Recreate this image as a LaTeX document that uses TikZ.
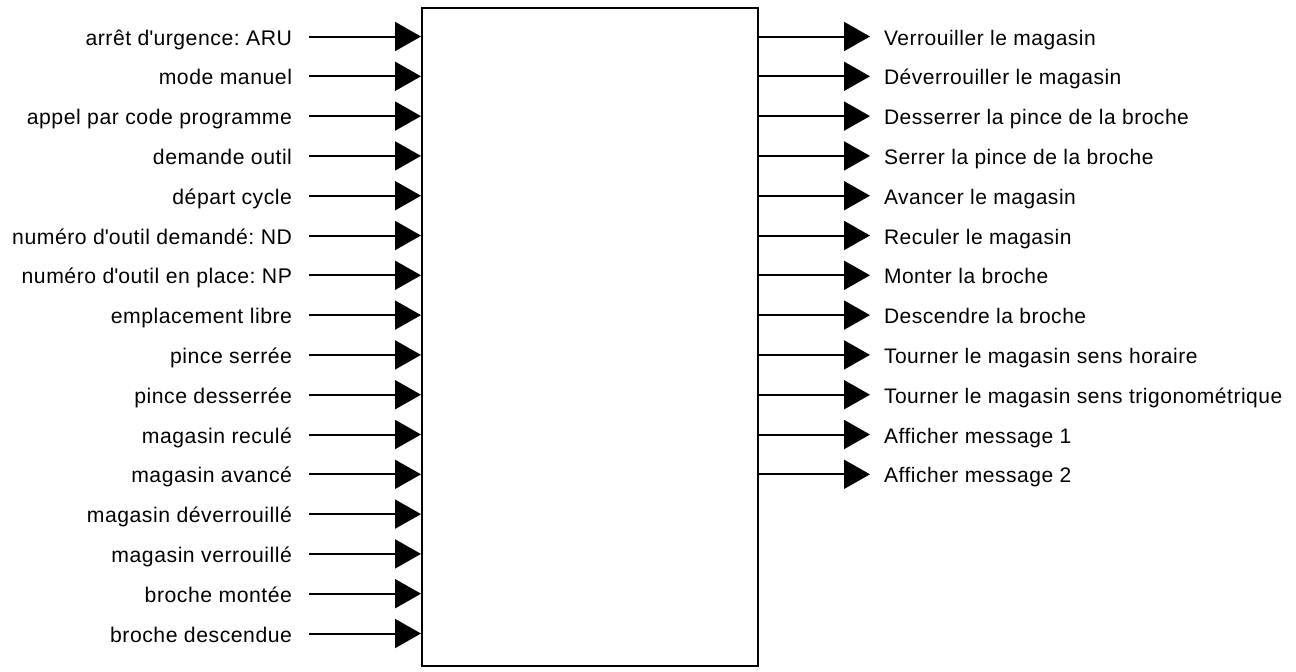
\documentclass[tikz,border=0pt]{standalone}
\usepackage{fontspec}
\setmainfont{Liberation Sans}[LetterSpace=2.5]
\frenchspacing
\usetikzlibrary{arrows.meta}
\tikzset{
  arr/.style={-{Triangle[length=13pt,width=14.5pt]}, line width=1pt},
  inlbl/.style={anchor=east, inner sep=0pt, outer xsep=8.5pt, text height=8.5pt, text depth=0pt, font=\fontsize{10.6pt}{12pt}\selectfont},
  outlbl/.style={anchor=west, inner sep=0pt, outer xsep=7pt, text height=8.5pt, text depth=0pt, font=\fontsize{10.5pt}{12pt}\selectfont},
  block/.style={draw, line width=1pt, minimum width=168pt, minimum height=329pt, inner sep=0pt}
}
\begin{document}
\begin{tikzpicture}[x=0.5pt, y=-0.5pt]
  \useasboundingbox (0,0) rectangle (1296,671);
  % central block
  \node[block] (box) at (590,337) {};
  % inputs
  \foreach \t [count=\i] in {
    arrêt d\textquotesingle urgence: ARU,
    mode manuel,
    appel par code programme,
    demande outil,
    départ cycle,
    numéro d\textquotesingle outil demandé: ND,
    numéro d\textquotesingle outil en place: NP,
    emplacement libre,
    pince serrée,
    pince desserrée,
    magasin reculé,
    magasin avancé,
    magasin déverrouillé,
    magasin verrouillé,
    broche montée,
    broche descendue}{
    \node[inlbl] (in\i) at (309, {36.5+39.8*(\i-1)}) {\t};
    \draw[arr] (in\i.east) -- (in\i.east -| box.west);
  }
  % outputs
  \foreach \t [count=\i] in {
    Verrouiller le magasin,
    Déverrouiller le magasin,
    Desserrer la pince de la broche,
    Serrer la pince de la broche,
    Avancer le magasin,
    Reculer le magasin,
    Monter la broche,
    Descendre la broche,
    Tourner le magasin sens horaire,
    Tourner le magasin sens trigonométrique,
    Afficher message 1,
    Afficher message 2}{
    \node[outlbl] (out\i) at (870, {36.5+39.8*(\i-1)}) {\t};
    \draw[arr] (out\i.west -| box.east) -- (out\i.west);
  }
\end{tikzpicture}
\end{document}
